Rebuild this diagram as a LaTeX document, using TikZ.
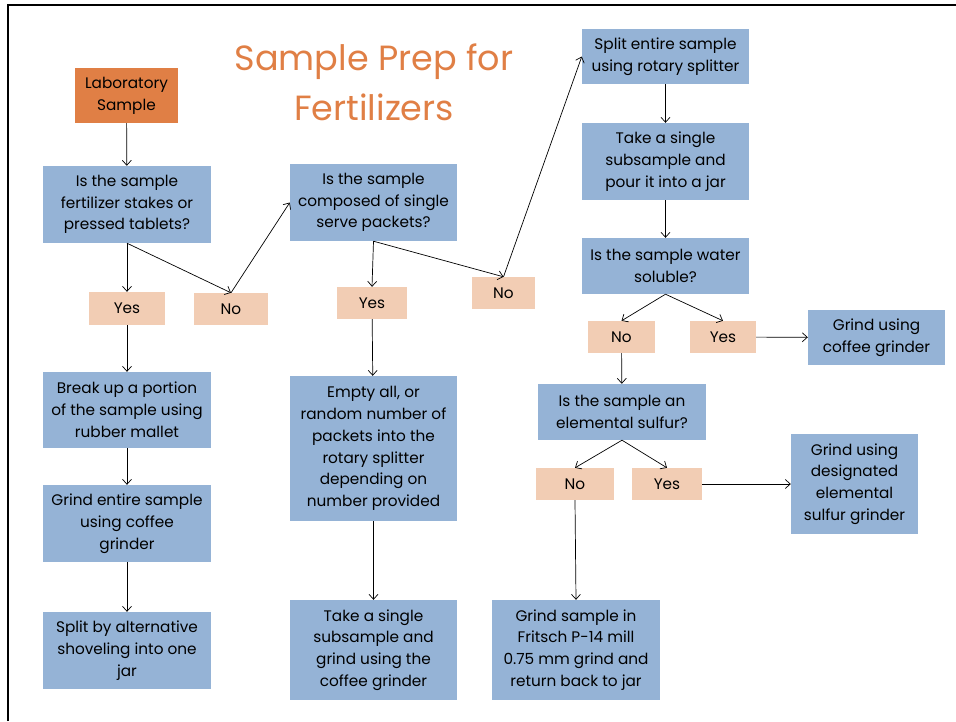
\documentclass[tikz,border=0pt]{standalone}
\usepackage{fontspec}
\setmainfont{Poppins}
\usetikzlibrary{arrows.meta}
\definecolor{boxblue}{HTML}{95B3D6}
\definecolor{laborange}{HTML}{E07F45}
\definecolor{peach}{HTML}{F2CDB4}
\definecolor{titleorange}{HTML}{E07F45}
\begin{document}
\begin{tikzpicture}[x=1pt,y=-1pt,
  every node/.style={inner sep=0pt, align=center, font=\fontsize{15.3}{21.8}\selectfont},
  bbox/.style={fill=boxblue, text=black},
  obox/.style={fill=laborange, text=black},
  ansbox/.style={fill=peach, text=black},
  conn/.style={-{Straight Barb[length=5pt,width=9pt]}, line width=0.7pt, black}]
\useasboundingbox (0,0) rectangle (956,721);
% frame
\draw[line width=2.8pt] (8,721) -- (8,5) -- (956,5);
% title
\node[text=titleorange, font=\fontsize{35}{50}\selectfont] (title) at (374,82) {Sample Prep for\\Fertilizers};
% column 1
\node[obox, minimum width=103, minimum height=55] (lab) at (126.5,95.5) {Laboratory\\Sample};
\node[bbox, minimum width=168, minimum height=77] (q1) at (127,204.5) {Is the sample\\fertilizer stakes or\\pressed tablets?};
\node[ansbox, minimum width=76, minimum height=33] (yes1) at (127,308.5) {Yes};
\node[ansbox, minimum width=74, minimum height=32] (no1) at (231,309) {No};
\node[bbox, minimum width=168, minimum height=76] (brk) at (127,410) {Break up a portion\\of the sample using\\rubber mallet};
\node[bbox, minimum width=168, minimum height=77] (grd) at (127,523.5) {Grind entire sample\\using coffee\\grinder};
\node[bbox, minimum width=168, minimum height=77] (spl) at (127,650.5) {Split by alternative\\shoveling into one\\jar};
% column 2
\node[bbox, minimum width=167, minimum height=77] (q2) at (373.5,202.5) {Is the sample\\composed of single\\serve packets?};
\node[ansbox, minimum width=70, minimum height=32] (yes2) at (372,303) {Yes};
\node[ansbox, minimum width=63, minimum height=32] (no2) at (503.5,293) {No};
\node[bbox, minimum width=167, minimum height=145] (emp) at (373.5,448.5) {Empty all, or\\random number of\\packets into the\\rotary splitter\\depending on\\number provided};
\node[bbox, minimum width=167, minimum height=100] (tsg) at (373.5,650) {Take a single\\subsample and\\grind using the\\coffee grinder};
% column 3
\node[bbox, minimum width=167, minimum height=55] (ses) at (665.5,56.5) {Split entire sample\\using rotary splitter};
\node[bbox, minimum width=167, minimum height=77] (tsp) at (665.5,161.5) {Take a single\\subsample and\\pour it into a jar};
\node[bbox, minimum width=167, minimum height=56] (q3) at (665.5,266) {Is the sample water\\soluble?};
\node[ansbox, minimum width=67, minimum height=32] (no3) at (621.5,337) {No};
\node[ansbox, minimum width=66, minimum height=32] (yes3) at (723,337) {Yes};
\node[bbox, minimum width=137, minimum height=55] (gcf) at (876.5,337.5) {Grind using\\coffee grinder};
\node[bbox, minimum width=168, minimum height=56] (q4) at (622,412) {Is the sample an\\elemental sulfur?};
\node[ansbox, minimum width=78, minimum height=32] (no4) at (575,484) {No};
\node[ansbox, minimum width=70, minimum height=32] (yes4) at (667,484) {Yes};
\node[bbox, minimum width=127, minimum height=100] (gds) at (854.5,484) {Grind using\\designated\\elemental\\sulfur grinder};
\node[bbox, minimum width=168, minimum height=100] (fri) at (576,650) {Grind sample in\\Fritsch P-14 mill\\0.75 mm grind and\\return back to jar};
% connectors
\draw[conn] (lab) -- (q1);
\draw[conn] (q1.south) -- (yes1.north);
\draw[conn] (q1.south) -- (no1.north);
\draw[conn] (no1.north) -- (q2.west);
\draw[conn] (yes1) -- (brk);
\draw[conn] (brk) -- (grd);
\draw[conn] (grd) -- (spl);
\draw[conn] (q2.south) -- (yes2.north);
\draw[conn] (q2.south) -- (no2.north);
\draw[conn] (no2.north) -- (ses.west);
\draw[conn] (yes2) -- (emp);
\draw[conn] (emp) -- (tsg);
\draw[conn] (ses) -- (tsp);
\draw[conn] (tsp) -- (q3);
\draw[conn] (q3.south) -- (no3.north);
\draw[conn] (q3.south) -- (yes3.north);
\draw[conn] (yes3) -- (gcf);
\draw[conn] (no3) -- (q4);
\draw[conn] (q4.south) -- (no4.north);
\draw[conn] (q4.south) -- (yes4.north);
\draw[conn] (yes4) -- (gds);
\draw[conn] (no4.south) -- (fri.north);
\end{tikzpicture}
\end{document}
